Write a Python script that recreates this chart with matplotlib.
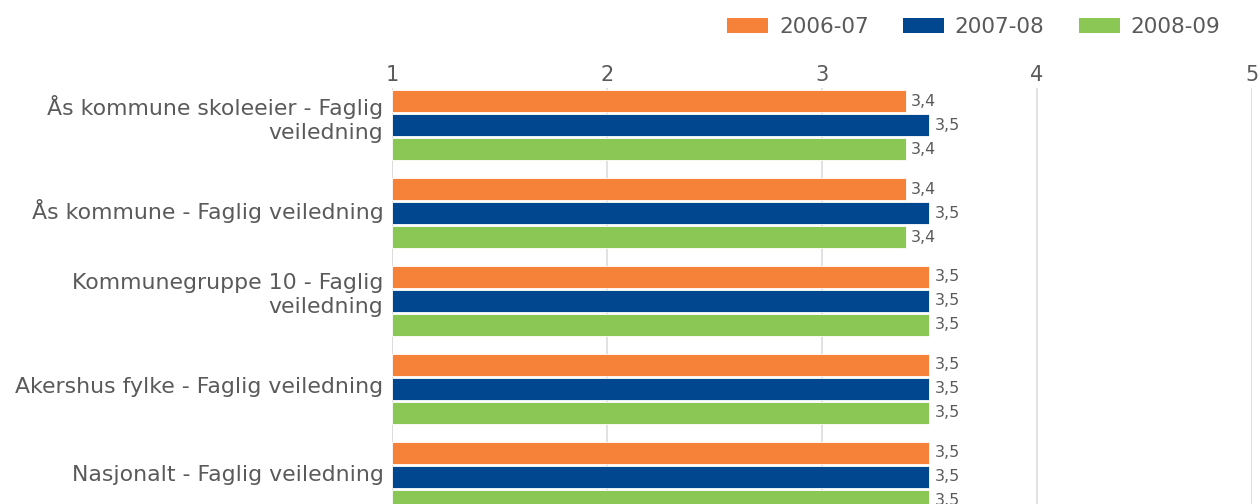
import matplotlib
matplotlib.use('Agg')
import matplotlib.pyplot as plt
import matplotlib.transforms as mtransforms
from matplotlib.patches import Patch
import numpy as np

plt.rcParams['font.family'] = ['DejaVu Sans']

# data
categories = ['Ås kommune skoleeier - Faglig\nveiledning',
              'Ås kommune - Faglig veiledning',
              'Kommunegruppe 10 - Faglig\nveiledning',
              'Akershus fylke - Faglig veiledning',
              'Nasjonalt - Faglig veiledning']
series_names = ['2006-07', '2007-08', '2008-09']
v_2006 = [3.39, 3.39, 3.5, 3.5, 3.5]
v_2007 = [3.5, 3.5, 3.5, 3.5, 3.5]
v_2008 = [3.39, 3.39, 3.5, 3.5, 3.5]
x_ticks = [1, 2, 3, 4, 5]

colors = ['#F58238', '#00478F', '#8BC755']
txt = '#5a5a5a'

fig = plt.figure(figsize=(12.6, 5.04), dpi=100)
ax = fig.add_axes([0.311, 0.0, 0.6827, 0.825])

y = np.arange(len(categories))
step = 0.273
h = 0.25
for i, vals in enumerate([v_2006, v_2007, v_2008]):
    pos = y + (i - 1) * step
    ax.barh(pos, np.array(vals) - 1, left=1, height=h, color=colors[i],
            edgecolor='white', linewidth=0.6, zorder=3)
    for p, v in zip(pos, vals):
        ax.text(v + 0.025, p, f'{v:.1f}'.replace('.', ','), va='center', ha='left',
                fontsize=11.5, color=txt)

ax.set_xlim(1, 5)
ax.set_ylim(4.31, -0.42)
ax.set_xticks(x_ticks)
ax.set_xticklabels([str(t) for t in x_ticks])
ax.xaxis.tick_top()
ax.tick_params(axis='x', length=0, pad=2.5, labelsize=15, labelcolor=txt)
ax.set_yticks(y)
ax.set_yticklabels(categories, linespacing=1.25)
ax.tick_params(axis='y', length=0, pad=6, labelsize=15.8, labelcolor=txt)
for lab in ax.get_yticklabels():
    dy = 7 / 72 if '\n' in lab.get_text() else 3 / 72
    lab.set_transform(lab.get_transform() + mtransforms.ScaledTranslation(0, dy, fig.dpi_scale_trans))
ax.grid(axis='x', color='#dcdcdc', linewidth=1.2, zorder=0)
ax.axvline(1, color='#dcdcdc', linewidth=1.2, zorder=0)
for s in ax.spines.values():
    s.set_visible(False)

handles = [Patch(facecolor=c, edgecolor='none') for c in colors]
fig.legend(handles, series_names, loc='upper right', bbox_to_anchor=(0.984, 1.004),
           ncol=3, frameon=False, fontsize=15.5, labelcolor=txt,
           handlelength=1.9, handleheight=0.7, columnspacing=1.6, handletextpad=0.5)

fig.savefig('out.png', dpi=100)
